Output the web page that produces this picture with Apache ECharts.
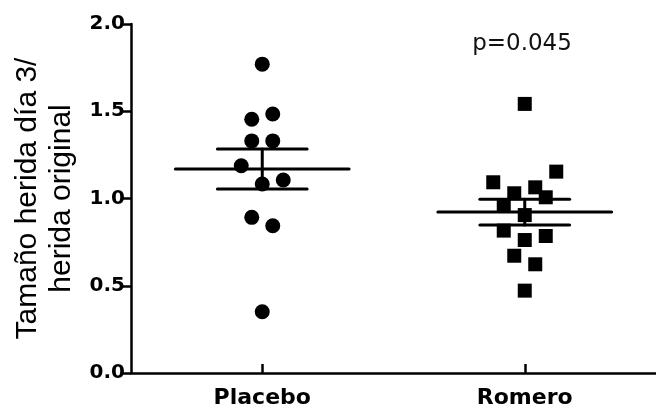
<!DOCTYPE html>
<html>
<head>
<meta charset="utf-8">
<script src="https://cdn.jsdelivr.net/npm/echarts@6/dist/echarts.min.js"></script>
<style>
  html, body { margin: 0; padding: 0; background: #fff; }
  #chart { width: 656px; height: 412px; }
</style>
</head>
<body>
<div id="chart"></div>
<script>
// ---- data ----
const categories = ['Placebo', 'Romero'];
const yTicks = [0, 0.5, 1.0, 1.5, 2.0];

// Placebo (circles): x = category index + jitter, y = value
const placeboX = [0, -0.04, 0.04, -0.04, 0.04, -0.08, 0, 0.08, -0.04, 0.04, 0];
const placeboY = [1.77, 1.454, 1.484, 1.33, 1.33, 1.188, 1.083, 1.106, 0.892, 0.844, 0.351];

// Romero (squares)
const romeroX = [1, 1.12, 0.88, 1.04, 0.96, 1.08, 0.92, 1, 0.92, 1.08, 1, 0.96, 1.04, 1];
const romeroY = [1.542, 1.154, 1.093, 1.064, 1.03, 1.007, 0.957, 0.905, 0.816, 0.785, 0.762, 0.672, 0.623, 0.472];

// mean and SEM per group
const groupMeans = [1.169, 0.922];
const groupSEM = [0.115, 0.074];

const pValueText = 'p=0.045';
const yTitle = 'Tamaño herida día 3/\nherida original';

// ---- chart ----
const chart = echarts.init(document.getElementById('chart'), null, { renderer: 'canvas' });

const MEAN_HALF = 0.331;  // half width of mean line (axis units)
const CAP_HALF = 0.171;   // half width of SEM caps (axis units)

const option = {
  backgroundColor: '#ffffff',
  animation: false,
  grid: { left: 131, right: 0, top: 24, bottom: 39, containLabel: false, outerBoundsMode: 'none' },
  xAxis: {
    type: 'value',
    min: -0.5,
    max: 1.5,
    splitLine: { show: false },
    axisLine: { show: true, onZero: false, lineStyle: { color: '#000', width: 2.5 } },
    axisTick: { show: true, inside: true, length: 9, customValues: [0, 1], lineStyle: { color: '#000', width: 2.5 } },
    axisLabel: {
      customValues: [0, 1],
      formatter: function (v) { return categories[Math.round(v)]; },
      fontFamily: 'DejaVu Sans', fontWeight: 'bold', fontSize: 22, color: '#000', margin: 14
    }
  },
  yAxis: {
    type: 'value',
    min: 0,
    max: 2,
    interval: 0.5,
    splitLine: { show: false },
    axisLine: { show: true, onZero: false, lineStyle: { color: '#000', width: 2.5 } },
    axisTick: { show: true, length: 8, lineStyle: { color: '#000', width: 2.5 } },
    axisLabel: {
      formatter: function (v) { return v.toFixed(1); },
      fontFamily: 'DejaVu Sans', fontWeight: 'bold', fontSize: 20, color: '#000', margin: 6
    },
    name: yTitle,
    nameLocation: 'middle',
    nameRotate: 90,
    nameGap: 51,
    nameTextStyle: { fontFamily: 'Liberation Sans', fontSize: 30, lineHeight: 34, color: '#000', align: 'center' }
  },
  graphic: [{
    type: 'text',
    x: 522, y: 44,
    style: {
      text: pValueText, fontFamily: 'DejaVu Sans', fontSize: 23, fill: '#111',
      textAlign: 'center', textVerticalAlign: 'middle'
    }
  }],
  series: [
    {
      type: 'scatter', name: categories[0],
      symbol: 'circle', symbolSize: 15,
      itemStyle: { color: '#000', opacity: 1 },
      data: placeboY.map(function (y, i) { return [placeboX[i], y]; })
    },
    {
      type: 'scatter', name: categories[1],
      symbol: 'rect', symbolSize: 14,
      itemStyle: { color: '#000', opacity: 1 },
      data: romeroY.map(function (y, i) { return [romeroX[i], y]; })
    },
    {
      type: 'custom', name: 'mean±SEM',
      data: groupMeans.map(function (m, i) { return [i, m, groupSEM[i]]; }),
      renderItem: function (params, api) {
        const c = api.value(0), m = api.value(1), s = api.value(2);
        const style = { stroke: '#000', lineWidth: 3, lineCap: 'round' };
        const a = api.coord([c - MEAN_HALF, m]), b = api.coord([c + MEAN_HALF, m]);
        const hiL = api.coord([c - CAP_HALF, m + s]), hiR = api.coord([c + CAP_HALF, m + s]);
        const loL = api.coord([c - CAP_HALF, m - s]), loR = api.coord([c + CAP_HALF, m - s]);
        const vt = api.coord([c, m + s]), vb = api.coord([c, m - s]);
        return {
          type: 'group',
          children: [
            { type: 'line', shape: { x1: a[0], y1: a[1], x2: b[0], y2: b[1] }, style: style },
            { type: 'line', shape: { x1: hiL[0], y1: hiL[1], x2: hiR[0], y2: hiR[1] }, style: style },
            { type: 'line', shape: { x1: loL[0], y1: loL[1], x2: loR[0], y2: loR[1] }, style: style },
            { type: 'line', shape: { x1: vt[0], y1: vt[1], x2: vb[0], y2: vb[1] }, style: style }
          ]
        };
      }
    }
  ]
};

chart.setOption(option);
</script>
</body>
</html>
